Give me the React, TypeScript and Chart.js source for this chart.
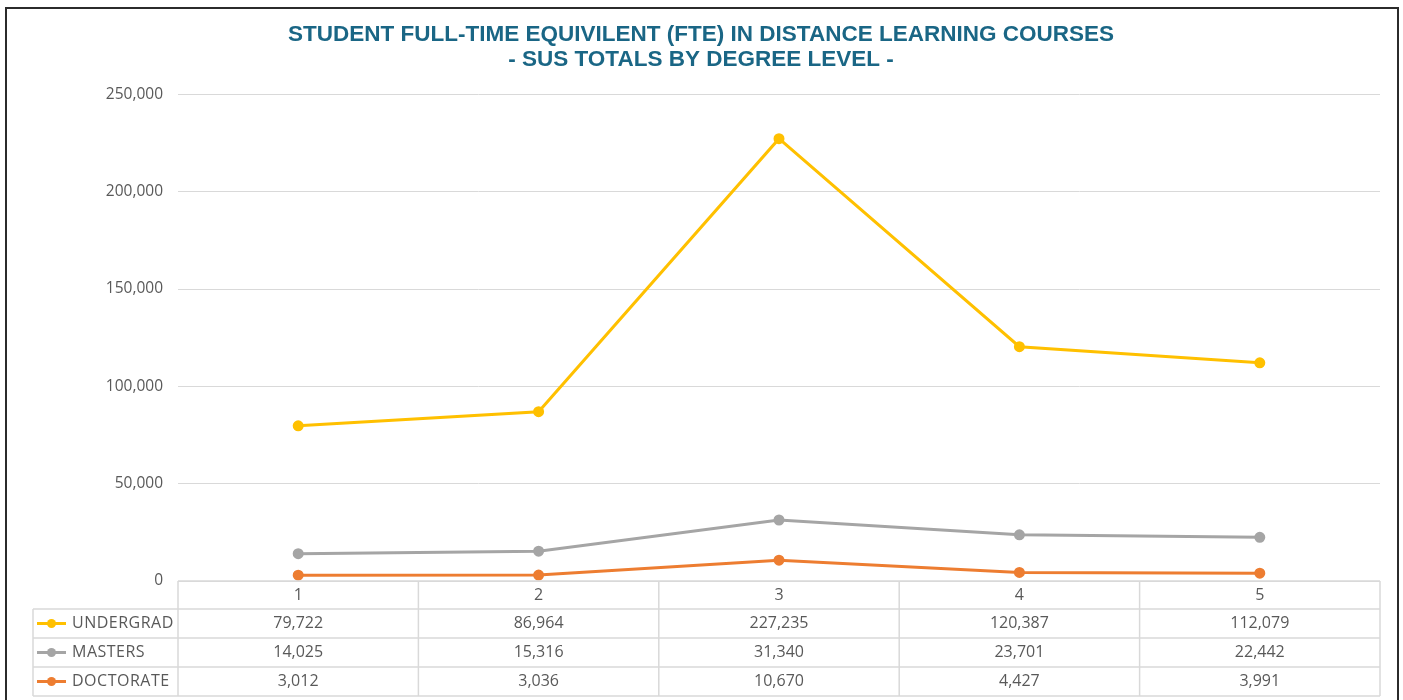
import React, { useEffect, useRef } from "react";
import { Chart, registerables } from "chart.js";

Chart.register(...registerables);

const categories = ["1", "2", "3", "4", "5"];
const undergrad = [79722, 86964, 227235, 120387, 112079];
const masters = [14025, 15316, 31340, 23701, 22442];
const doctorate = [3012, 3036, 10670, 4427, 3991];
const seriesNames = ["UNDERGRAD", "MASTERS", "DOCTORATE"];
const seriesColors = ["#FFC000", "#A5A5A5", "#ED7D31"];
const yMin = 0;
const yMax = 250000;
const yStep = 50000;
const titleLines = [
  "STUDENT FULL-TIME EQUIVILENT (FTE) IN DISTANCE LEARNING COURSES",
  "- SUS TOTALS BY DEGREE LEVEL -",
];

const TEXT_FONT = "'Open Sans', 'Liberation Sans', sans-serif";
const TEXT_COLOR = "#595959";
const GRID_COLOR = "#d9d9d9";

const fmt = (v: number) => v.toLocaleString("en-US");

const dataTablePlugin = {
  id: "dataTable",
  afterDraw(chart: any) {
    const { ctx, chartArea } = chart;
    const xs = chart.scales.x;
    const n = categories.length;
    const colW = (chartArea.right - chartArea.left) / n;
    const top = chartArea.bottom;
    const headerH = 28;
    const rowH = 29;
    const labelLeft = 33;
    const bottom = top + headerH + rowH * chart.data.datasets.length;

    const line = (x1: number, y1: number, x2: number, y2: number) => {
      ctx.beginPath();
      ctx.moveTo(x1, y1);
      ctx.lineTo(x2, y2);
      ctx.stroke();
    };

    ctx.save();
    ctx.strokeStyle = GRID_COLOR;
    ctx.lineWidth = 1.5;
    line(chartArea.left, top, chartArea.right, top);
    for (let r = 0; r <= chart.data.datasets.length; r++) {
      const y = top + headerH + r * rowH;
      line(labelLeft, y, chartArea.right, y);
    }
    line(labelLeft, top + headerH, labelLeft, bottom);
    for (let i = 0; i <= n; i++) {
      const x = chartArea.left + i * colW;
      line(x, top, x, bottom);
    }

    ctx.font = `16px ${TEXT_FONT}`;
    ctx.fillStyle = TEXT_COLOR;
    ctx.textAlign = "center";
    ctx.textBaseline = "middle";
    categories.forEach((c, i) => {
      ctx.fillText(c, xs.getPixelForValue(i), top + headerH / 2);
    });

    chart.data.datasets.forEach((ds: any, r: number) => {
      const cy = top + headerH + r * rowH + rowH / 2;
      ctx.strokeStyle = ds.borderColor;
      ctx.lineWidth = 3;
      line(37, cy, 66, cy);
      ctx.fillStyle = ds.borderColor;
      ctx.beginPath();
      ctx.arc(51.5, cy, 4.5, 0, Math.PI * 2);
      ctx.fill();
      ctx.fillStyle = TEXT_COLOR;
      ctx.textAlign = "left";
      (ctx as any).letterSpacing = "0.5px";
      ctx.fillText(ds.label, 72, cy);
      (ctx as any).letterSpacing = "0px";
      ctx.textAlign = "center";
      ds.data.forEach((v: number, i: number) => {
        ctx.fillText(fmt(v), xs.getPixelForValue(i), cy);
      });
    });

    // outer frame
    ctx.strokeStyle = "#2b2b2b";
    ctx.lineWidth = 2;
    ctx.strokeRect(6, 8, 1392, 720);
    ctx.restore();
  },
};

export default function App() {
  const canvasRef = useRef<HTMLCanvasElement | null>(null);

  useEffect(() => {
    if (!canvasRef.current) return;
    const seriesData = [undergrad, masters, doctorate];
    const chart = new Chart(canvasRef.current, {
      type: "line",
      data: {
        labels: categories,
        datasets: seriesData.map((d, i) => ({
          label: seriesNames[i],
          data: d,
          borderColor: seriesColors[i],
          backgroundColor: seriesColors[i],
          pointBackgroundColor: seriesColors[i],
          pointBorderColor: seriesColors[i],
          borderWidth: 3,
          pointRadius: 4,
          tension: 0,
        })),
      },
      options: {
        animation: false,
        responsive: true,
        maintainAspectRatio: false,
        layout: { padding: { left: 22, right: 23, top: 0, bottom: 119 } },
        plugins: {
          legend: { display: false },
          tooltip: { enabled: false },
          title: {
            display: true,
            text: titleLines,
            color: "#1a6685",
            font: {
              family: "'Liberation Sans', Arial, sans-serif",
              size: 22.5,
              weight: "bold",
              lineHeight: 1.12,
            },
            padding: { top: 22, bottom: 22 },
          },
        },
        scales: {
          x: {
            type: "category",
            display: false,
            offset: true,
          },
          y: {
            min: yMin,
            max: yMax,
            border: { display: false },
            grid: { color: GRID_COLOR, lineWidth: 1, drawTicks: false },
            ticks: {
              stepSize: yStep,
              padding: 15,
              color: TEXT_COLOR,
              font: { family: TEXT_FONT, size: 15.5 },
              callback: (v: any) => fmt(Number(v)),
            },
            afterFit: (scale: any) => {
              scale.width = 156;
            },
          },
        },
      },
      plugins: [dataTablePlugin],
    });
    return () => chart.destroy();
  }, []);

  return (
    <div
      style={{
        position: "fixed",
        left: 0,
        top: 0,
        width: 1403,
        height: 700,
        background: "#ffffff",
      }}
    >
      <canvas ref={canvasRef} style={{ display: "block" }} />
    </div>
  );
}
